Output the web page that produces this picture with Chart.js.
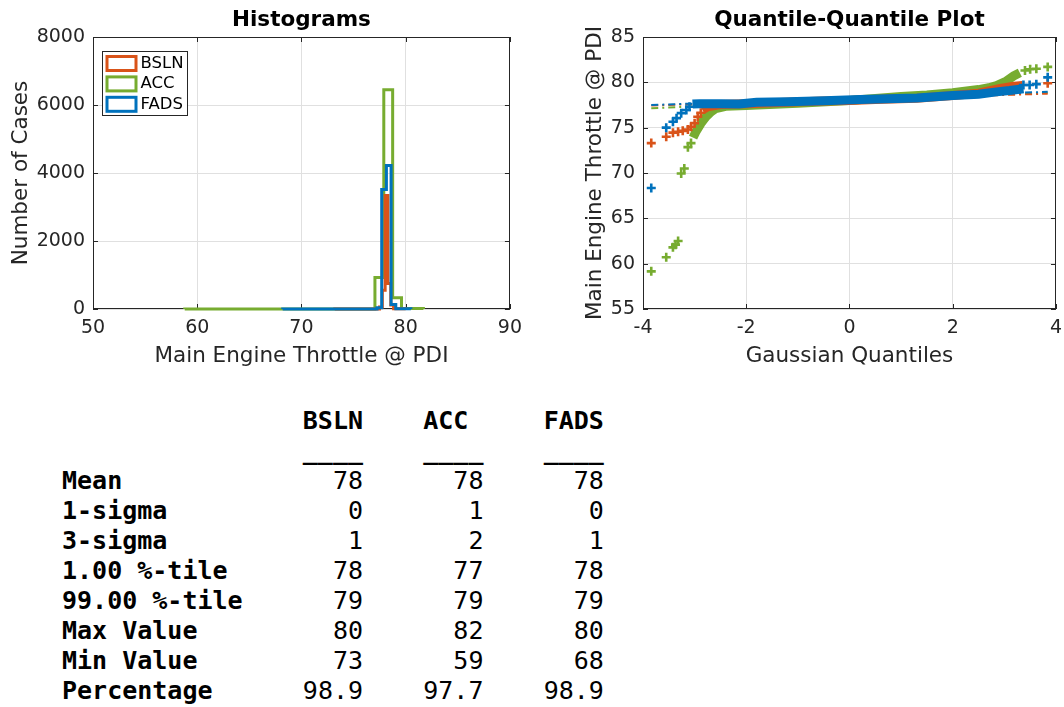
<!DOCTYPE html>
<html>
<head>
<meta charset="utf-8">
<title>Main Engine Throttle @ PDI</title>
<script src="https://cdn.jsdelivr.net/npm/chart.js@4.4.1/dist/chart.umd.min.js"></script>
<style>
  html, body { margin: 0; padding: 0; background: #fff; overflow: hidden; width: 1064px; height: 707px; }
  #hist { position: absolute; left: 0; top: 0; }
  #qq { position: absolute; left: 530px; top: 0; }
  #stats { position: absolute; left: 62px; top: 406px; margin: 0; color: #000;
           font-family: "DejaVu Sans Mono", monospace; font-size: 25px; line-height: 30px; white-space: pre; }
</style>
</head>
<body>
<canvas id="hist" width="530" height="370"></canvas>
<canvas id="qq" width="540" height="370"></canvas>
<pre id="stats"></pre>
<script>
var seriesNames = ['BSLN', 'ACC', 'FADS'];
var seriesColors = ['#D95319', '#77AC30', '#0072BD'];

// histogram bins: edges and counts per case
var bslnEdges = [73.2, 77.49, 77.76, 78.03, 78.3, 78.57, 78.84, 80.0];
var bslnCounts = [2, 60, 550, 3340, 750, 120, 10];
var accEdges = [58.8, 77.05, 77.9, 78.75, 79.6, 81.7];
var accCounts = [3, 930, 6450, 330, 12];
var fadsEdges = [68.2, 77.25, 77.7, 78.15, 78.6, 79.05, 80.5];
var fadsCounts = [2, 40, 3515, 4220, 130, 6];

// quantile-quantile: gaussian quantile (x) vs throttle (y)
// tails = separate markers, band = dense run of markers, ref = fitted dash-dot line
var bslnTailX = [-3.84, -3.55, -3.42, -3.32, -3.23, -3.13, -3.07, -3.0, -2.94, -2.88, 3.84];
var bslnTailY = [73.3, 74.0, 74.45, 74.55, 74.65, 74.8, 75.1, 75.5, 76.2, 76.65, 79.9];
var bslnBandX = [-2.85, -2.75, -2.5, -2.0, -1.5, -0.5, 0, 0.5, 1.3, 2.0, 2.5, 2.9, 3.15, 3.35];
var bslnBandY = [76.95, 77.3, 77.55, 77.65, 77.75, 77.95, 78.0, 78.1, 78.25, 78.55, 78.8, 79.3, 79.55, 79.65];
var bslnRefX = [-3.84, 3.84];
var bslnRefY = [77.45, 78.75];

var accTailX = [-3.84, -3.55, -3.42, -3.37, -3.32, -3.26, -3.2, -3.13, -3.07, 3.4, 3.5, 3.62, 3.84];
var accTailY = [59.15, 60.7, 61.8, 62.1, 62.5, 69.95, 70.5, 72.85, 73.3, 81.3, 81.45, 81.5, 81.7];
var accBandX = [-3.03, -2.98, -2.88, -2.78, -2.68, -2.59, -2.4, -2.0, -1.0, 0, 1.0, 1.5, 2.0, 2.5, 2.7, 2.85, 3.04, 3.18, 3.3];
var accBandY = [73.9, 74.5, 75.45, 76.2, 76.75, 77.1, 77.35, 77.45, 77.7, 78.0, 78.45, 78.6, 78.85, 79.2, 79.4, 79.65, 80.15, 80.7, 81.05];
var accRefX = [-3.84, 3.84];
var accRefY = [77.15, 78.85];

var fadsTailX = [-3.84, -3.55, -3.42, -3.35, -3.26, -3.16, -3.1, 3.37, 3.49, 3.62, 3.84];
var fadsTailY = [68.35, 75.0, 75.65, 76.05, 76.6, 76.95, 77.3, 79.7, 79.7, 79.8, 80.55];
var fadsBandX = [-3.04, -2.9, -2.5, -2.14, -1.8, -1.2, -0.49, 0.2, 0.93, 1.31, 2.0, 2.5, 2.85, 3.1, 3.37];
var fadsBandY = [77.6, 77.65, 77.65, 77.62, 77.8, 77.85, 77.98, 78.1, 78.22, 78.28, 78.55, 78.68, 78.95, 79.1, 79.3];
var fadsRefX = [-3.84, 3.84];
var fadsRefY = [77.5, 78.95];

var histXTicks = [50, 60, 70, 80, 90];
var histYTicks = [0, 2000, 4000, 6000, 8000];
var qqXTicks = [-4, -2, 0, 2, 4];
var qqYTicks = [55, 60, 65, 70, 75, 80, 85];

// summary table
var statLabels = ['Mean', '1-sigma', '3-sigma', '1.00 %-tile', '99.00 %-tile', 'Max Value', 'Min Value', 'Percentage'];
var bslnStats = ['78', '0', '1', '78', '79', '80', '73', '98.9'];
var accStats = ['78', '1', '2', '77', '79', '82', '59', '97.7'];
var fadsStats = ['78', '0', '1', '78', '79', '80', '68', '98.9'];

Chart.defaults.font.family = '"DejaVu Sans", sans-serif';
Chart.defaults.color = '#262626';

var axisColor = '#262626';
var gridColor = '#e0e0e0';
var tickFont = {size: 19};
var labelFont = {size: 21.5};

// outline of a stairs histogram: up at the first edge, across each bin, down at the last edge
function stairs(edges, counts) {
  var pts = [{x: edges[0], y: 0}];
  for (var i = 0; i < edges.length; i++) {
    pts.push({x: edges[i], y: i < counts.length ? counts[i] : 0});
  }
  return pts;
}

function xy(xs, ys) {
  return xs.map(function (x, i) { return {x: x, y: ys[i]}; });
}

function fixedTicks(values) {
  return function (axis) {
    axis.ticks = values.map(function (v) { return {value: v}; });
  };
}

// box round the axes plus inward tick marks, like the matlab figure
var framePlugin = {
  id: 'frame',
  beforeDatasetsDraw: function (chart) {
    var a = chart.chartArea, ctx = chart.ctx, len = 5;
    var sx = chart.scales.x, sy = chart.scales.y;
    ctx.save();
    ctx.strokeStyle = axisColor;
    ctx.lineWidth = 1;
    ctx.strokeRect(Math.round(a.left) + 0.5, Math.round(a.top) + 0.5,
                   Math.round(a.right - a.left) - 1, Math.round(a.bottom - a.top) - 1);
    ctx.beginPath();
    sx.ticks.forEach(function (t) {
      var px = Math.round(sx.getPixelForValue(t.value)) + 0.5;
      ctx.moveTo(px, a.bottom); ctx.lineTo(px, a.bottom - len);
      ctx.moveTo(px, a.top); ctx.lineTo(px, a.top + len);
    });
    sy.ticks.forEach(function (t) {
      var py = Math.round(sy.getPixelForValue(t.value)) + 0.5;
      ctx.moveTo(a.left, py); ctx.lineTo(a.left + len, py);
      ctx.moveTo(a.right, py); ctx.lineTo(a.right - len, py);
    });
    ctx.stroke();
    ctx.restore();
  }
};

// framed legend in the upper left corner of the histogram
var boxLegendPlugin = {
  id: 'boxLegend',
  afterDatasetsDraw: function (chart) {
    var a = chart.chartArea, ctx = chart.ctx;
    var x0 = Math.round(a.left) + 9, y0 = Math.round(a.top) + 14, w = 85, h = 64;
    ctx.save();
    ctx.fillStyle = '#fff';
    ctx.fillRect(x0, y0, w, h);
    ctx.strokeStyle = axisColor;
    ctx.lineWidth = 1;
    ctx.strokeRect(x0 + 0.5, y0 + 0.5, w, h);
    ctx.font = '16.5px "DejaVu Sans"';
    ctx.textBaseline = 'middle';
    ctx.textAlign = 'left';
    chart.data.datasets.forEach(function (ds, i) {
      var cy = y0 + 12.5 + i * 20.4;
      ctx.strokeStyle = ds.borderColor;
      ctx.lineWidth = 3;
      ctx.strokeRect(x0 + 5, cy - 7, 29, 14);
      ctx.fillStyle = '#000';
      ctx.fillText(ds.label, x0 + 38.5, cy);
    });
    ctx.restore();
  }
};

function axisOpts(min, max, ticks, title, fitKey, fitSize, titlePad) {
  return {
    type: 'linear',
    min: min,
    max: max,
    afterBuildTicks: fixedTicks(ticks),
    afterFit: function (scale) { scale[fitKey] = fitSize; },
    grid: {color: gridColor, lineWidth: 1, drawTicks: false},
    border: {display: false},
    ticks: {font: tickFont, color: axisColor, padding: 8, maxRotation: 0,
            callback: function (v) { return String(v); }},
    title: {display: true, text: title, font: labelFont, color: axisColor, padding: titlePad}
  };
}

var histChart = new Chart(document.getElementById('hist'), {
  type: 'line',
  data: {
    datasets: [
      {label: seriesNames[0], data: stairs(bslnEdges, bslnCounts), borderColor: seriesColors[0], order: 2},
      {label: seriesNames[1], data: stairs(accEdges, accCounts), borderColor: seriesColors[1], order: 3},
      {label: seriesNames[2], data: stairs(fadsEdges, fadsCounts), borderColor: seriesColors[2], order: 1}
    ]
  },
  options: {
    responsive: false,
    animation: false,
    events: [],
    layout: {padding: {left: 0, right: 19, top: 0, bottom: 0}},
    datasets: {line: {stepped: 'before', borderWidth: 3, pointRadius: 0, fill: false, tension: 0, clip: 4}},
    scales: {
      x: axisOpts(50, 90, histXTicks, 'Main Engine Throttle @ PDI', 'height', 61, {top: 0, bottom: 1}),
      y: axisOpts(0, 8000, histYTicks, 'Number of Cases', 'width', 93, {top: 9, bottom: 0})
    },
    plugins: {
      legend: {display: false},
      tooltip: {enabled: false},
      title: {display: true, text: 'Histograms', fullSize: false, color: '#000',
              font: {size: 21.5, weight: 'bold'}, padding: {top: 8, bottom: 3.2}}
    }
  },
  plugins: [framePlugin, boxLegendPlugin]
});

function bandSet(label, xs, ys, color, order) {
  return {label: label, data: xy(xs, ys), showLine: true, borderColor: color, borderWidth: 9,
          borderCapStyle: 'butt', pointRadius: 0, order: order};
}
function tailSet(label, xs, ys, color, order) {
  return {label: label, data: xy(xs, ys), showLine: false, borderColor: color, backgroundColor: color,
          pointStyle: 'cross', pointRadius: 4.5, pointBorderWidth: 2.6, order: order};
}
function refSet(label, xs, ys, color, order) {
  return {label: label, data: xy(xs, ys), showLine: true, borderColor: color, borderWidth: 2,
          borderDash: [7, 4, 2, 4], pointRadius: 0, order: order};
}

var qqChart = new Chart(document.getElementById('qq'), {
  type: 'scatter',
  data: {
    datasets: [
      bandSet(seriesNames[2], fadsBandX, fadsBandY, seriesColors[2], 1),
      tailSet(seriesNames[2], fadsTailX, fadsTailY, seriesColors[2], 1),
      bandSet(seriesNames[0], bslnBandX, bslnBandY, seriesColors[0], 2),
      tailSet(seriesNames[0], bslnTailX, bslnTailY, seriesColors[0], 2),
      bandSet(seriesNames[1], accBandX, accBandY, seriesColors[1], 3),
      tailSet(seriesNames[1], accTailX, accTailY, seriesColors[1], 3),
      refSet(seriesNames[2], fadsRefX, fadsRefY, seriesColors[2], 4),
      refSet(seriesNames[0], bslnRefX, bslnRefY, seriesColors[0], 5),
      refSet(seriesNames[1], accRefX, accRefY, seriesColors[1], 6)
    ]
  },
  options: {
    responsive: false,
    animation: false,
    events: [],
    layout: {padding: {left: 0, right: 10, top: 0, bottom: 0}},
    scales: {
      x: axisOpts(-4, 4, qqXTicks, 'Gaussian Quantiles', 'height', 61, {top: 0, bottom: 1}),
      y: axisOpts(55, 85, qqYTicks, 'Main Engine Throttle @ PDI', 'width', 113, {top: 53, bottom: 0})
    },
    plugins: {
      legend: {display: false},
      tooltip: {enabled: false},
      title: {display: true, text: 'Quantile-Quantile Plot', fullSize: false, color: '#000',
              font: {size: 21.5, weight: 'bold'}, padding: {top: 8, bottom: 3.2}}
    }
  },
  plugins: [framePlugin]
});

// monospace summary table below the plots
function buildStats() {
  var cols = [bslnStats, accStats, fadsStats];
  var lines = [];
  var head = ' '.repeat(16);
  seriesNames.forEach(function (n) { head += n.padEnd(8); });
  lines.push('<b>' + head.replace(/\s+$/, '') + '</b>');
  lines.push('<b>' + ' '.repeat(16) + seriesNames.map(function () { return '____'; }).join('    ') + '</b>');
  statLabels.forEach(function (lab, r) {
    var row = '<b>' + lab.padEnd(16) + '</b>';
    row += cols.map(function (c) { return c[r].padStart(4); }).join('    ');
    lines.push(row);
  });
  document.getElementById('stats').innerHTML = lines.join('\n');
}
buildStats();
</script>
</body>
</html>
